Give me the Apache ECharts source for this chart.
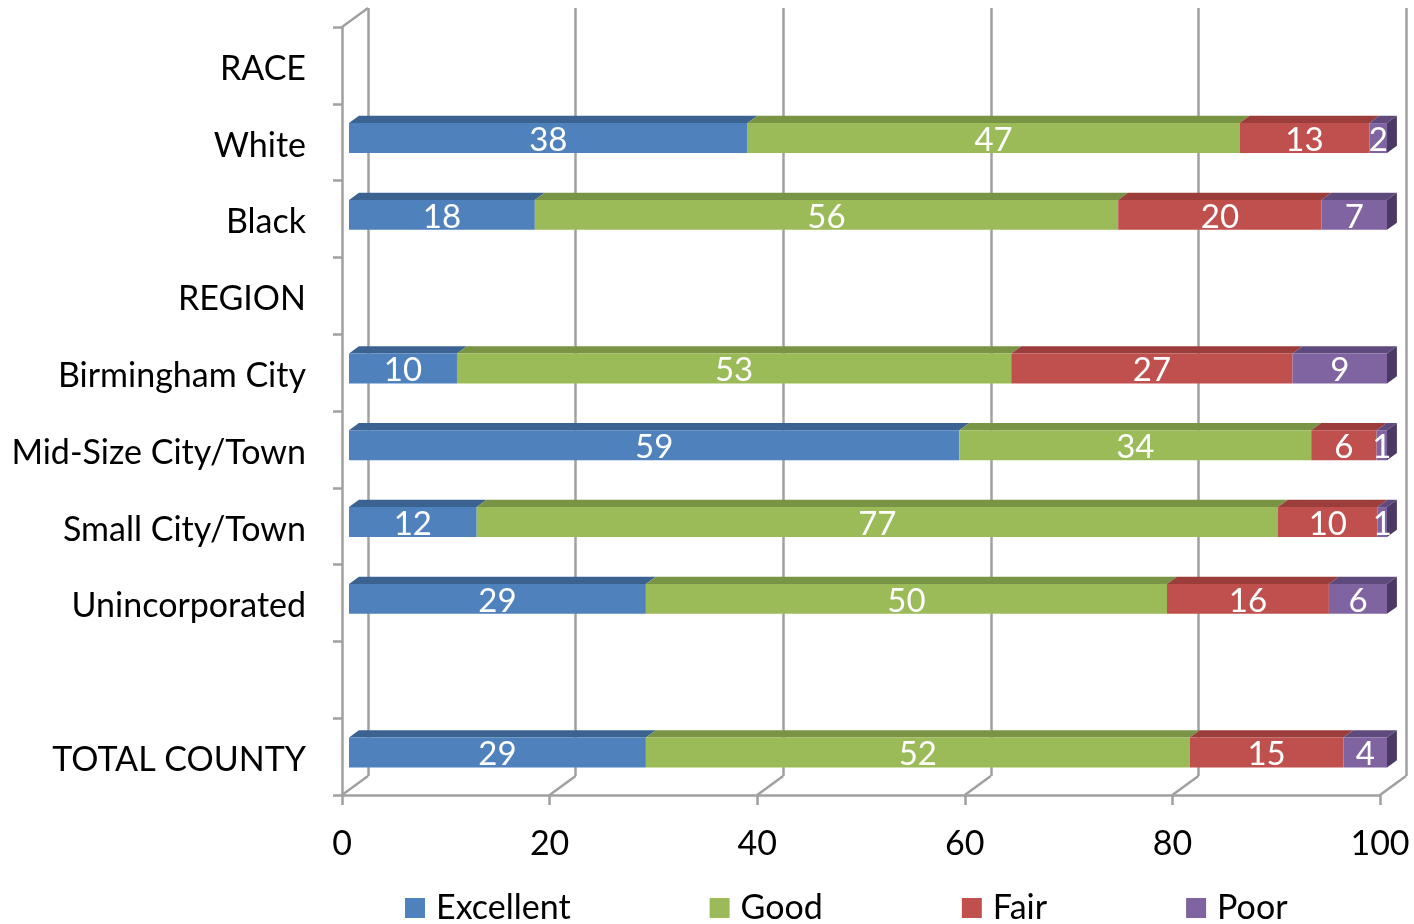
<!DOCTYPE html>
<html>
<head>
<meta charset="utf-8">
<script src="https://cdn.jsdelivr.net/npm/echarts@6/dist/echarts.min.js"></script>
<style>
html,body{margin:0;padding:0;background:#fff;}
#chart{width:1414px;height:924px;}
</style>
</head>
<body>
<div id="chart"></div>
<script>
const categories = ['RACE', 'White', 'Black', 'REGION', 'Birmingham City', 'Mid-Size City/Town', 'Small City/Town', 'Unincorporated', '', 'TOTAL COUNTY'];
const seriesNames = ['Excellent', 'Good', 'Fair', 'Poor'];
const excellent = [null, 38.4, 17.9, null, 10.4, 58.8, 12.3, 28.6, null, 28.6];
const good      = [null, 47.4, 56.2, null, 53.4, 33.9, 77.2, 50.2, null, 52.4];
const fair      = [null, 12.5, 19.6, null, 27.1, 6.3, 9.6, 15.6, null, 14.8];
const poor      = [null, 1.7, 6.5, null, 9.1, 1.0, 0.9, 5.6, null, 4.2];
const xTicks = [0, 20, 40, 60, 80, 100];

const FONT = 'Lato, "Open Sans", sans-serif';
const DX = 26, DY = -19;          // full depth offset of the 3D walls
const F0 = 0.27, F1 = 0.65;       // bar depth (front / back fraction)
const faceColors = [
  {front: '#4F81BD', top: '#3B6392', side: '#2E4F78'},
  {front: '#9BBB59', top: '#7A9446', side: '#617637'},
  {front: '#C0504D', top: '#9A3D3B', side: '#7A302E'},
  {front: '#8064A2', top: '#5F4A7D', side: '#4A3963'}
];
const allSeries = [excellent, good, fair, poor];

function buildData(idx) {
  const out = [];
  for (let i = 0; i < categories.length; i++) {
    const v = allSeries[idx][i];
    if (v == null) continue;
    let start = 0;
    for (let k = 0; k < idx; k++) start += allSeries[k][i] || 0;
    out.push([i, start, Math.min(start + v, 100), v]);
  }
  return out;
}

function barRender(idx) {
  return function (params, api) {
    const cat = api.value(0), s = api.value(1), e = api.value(2), v = api.value(3);
    const p0 = api.coord([s, cat]);
    const p1 = api.coord([e, cat]);
    const band = api.size([0, 1])[1];
    const h = band * 0.39;
    const ox = DX * F0, oy = DY * F0;
    const dx = DX * (F1 - F0), dy = DY * (F1 - F0);
    const x0 = p0[0] + ox, x1 = p1[0] + ox;
    const yc = p0[1] + oy + 1;
    const yt = yc - h / 2, yb = yc + h / 2;
    const c = faceColors[idx];
    const children = [
      {type: 'polygon', shape: {points: [[x0, yt], [x0 + dx, yt + dy], [x1 + dx, yt + dy], [x1, yt]]},
       style: {fill: c.top}},
      {type: 'rect', shape: {x: x0, y: yt, width: x1 - x0, height: h},
       style: {fill: c.front}}
    ];
    if (idx === 3) {
      children.push({type: 'polygon', shape: {points: [[x1, yt], [x1 + dx, yt + dy], [x1 + dx, yb + dy], [x1, yb]]},
        style: {fill: c.side}});
    }
    children.push({type: 'text', style: {
      text: String(Math.round(v)), x: (x0 + x1) / 2, y: yc + 2,
      align: 'center', verticalAlign: 'middle', fill: '#fff',
      font: '33px ' + FONT
    }});
    return {type: 'group', children: children};
  };
}

const frameRender = function (params, api) {
  const v = api.value(0);
  const cs = params.coordSys;
  const px = api.coord([v, 0])[0];
  const bottom = cs.y + cs.height, top = cs.y;
  const st = {stroke: '#A0A0A0', lineWidth: 2.5};
  const ch = [{type: 'line', shape: {x1: px, y1: bottom, x2: px + DX, y2: bottom + DY}, style: st}];
  if (v === 0) {
    ch.push({type: 'line', shape: {x1: px, y1: top, x2: px + DX, y2: top + DY}, style: st});
  }
  return {type: 'group', children: ch};
};

const series = [];
series.push({
  type: 'custom', name: 'frame', xAxisIndex: 0, yAxisIndex: 0,
  renderItem: frameRender, data: xTicks.map(t => [t, 0]), silent: true, z: 1
});
seriesNames.forEach((n, i) => {
  series.push({
    type: 'custom', name: n, xAxisIndex: 0, yAxisIndex: 0,
    renderItem: barRender(i), data: buildData(i),
    itemStyle: {color: faceColors[i].front},
    encode: {x: [1, 2], y: 0}, z: 5, clip: false
  });
});

const chart = echarts.init(document.getElementById('chart'));
chart.setOption({
  backgroundColor: '#fff',
  animation: false,
  grid: [
    {left: 342, right: 34, top: 27, bottom: 129},
    {left: 342 + DX, right: 34 - DX, top: 27 + DY, bottom: 129 - DY}
  ],
  xAxis: [
    {type: 'value', gridIndex: 0, min: 0, max: 100, interval: 20,
     axisLine: {show: true, lineStyle: {color: '#A0A0A0', width: 2.5}},
     axisTick: {show: true, length: 10, lineStyle: {color: '#A0A0A0', width: 2.5}},
     axisLabel: {color: '#000', fontSize: 34, fontFamily: FONT, margin: 32,
       formatter: v => xTicks.indexOf(v) >= 0 ? String(v) : ''},
     splitLine: {show: false}},
    {type: 'value', gridIndex: 1, min: 0, max: 100, interval: 20,
     axisLine: {show: false}, axisTick: {show: false}, axisLabel: {show: false},
     splitLine: {show: true, lineStyle: {color: '#A0A0A0', width: 2.5}}}
  ],
  yAxis: [
    {type: 'category', gridIndex: 0, data: categories, inverse: true,
     axisLine: {show: true, lineStyle: {color: '#A0A0A0', width: 2.5}},
     axisTick: {show: true, length: 9, lineStyle: {color: '#A0A0A0', width: 2.5}},
     axisLabel: {color: '#000', fontSize: 34, fontFamily: FONT, margin: 36,
       formatter: v => '{a|' + v + '}',
       rich: {a: {color: '#000', fontSize: 34, fontFamily: FONT, padding: [7, 0, 0, 0]}}}},
    {type: 'category', gridIndex: 1, data: categories, inverse: true, show: false}
  ],
  legend: {
    data: seriesNames, left: 405, top: 891, padding: 0, itemWidth: 20, itemHeight: 20, itemGap: 139,
    icon: 'rect',
    textStyle: {color: '#000', fontSize: 34, fontFamily: FONT, padding: [3, 0, 0, 6]}
  },
  series: series
});
</script>
</body>
</html>
